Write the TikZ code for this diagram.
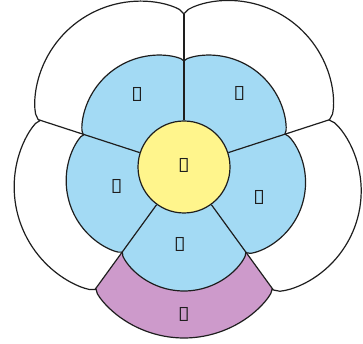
\documentclass[tikz,border=0pt]{standalone}
\usepackage{fontspec}
\newfontfamily\tefont[Script=Telugu]{Hind Guntur}
\definecolor{petalblue}{RGB}{163,218,244}
\definecolor{coreyellow}{RGB}{255,245,140}
\definecolor{lilac}{RGB}{205,154,203}
\definecolor{inkline}{RGB}{30,30,30}
\pgfmathdeclarefunction{lobe}{3}{%
  \pgfmathparse{#1+#2*0.5*(abs(sin(180*#3))+sqrt(abs(sin(180*#3))))}}
\tikzset{
  edge/.style={draw=inkline, line width=1.2pt, line join=round},
  digit/.style={font=\tefont\fontsize{20}{20}\selectfont, inner sep=0pt, text=inkline},
  lp/.style={domain=0:1, samples=45, variable=\t},
}
\begin{document}
\begin{tikzpicture}[x=1pt,y=1pt]
\useasboundingbox (0,0) rectangle (363,344);
\fill[white] (0,0) rectangle (363,344);
\begin{scope}[shift={(184,177)}]
  % outer ring (white)
  \fill[white] plot[lp] ({18+72*\t}:{lobe(153,28,\t)})
    -- plot[lp] ({90+72*\t}:{lobe(153,27,\t)})
    -- plot[lp] ({162+72*\t}:{lobe(151,22,\t)})
    -- plot[lp] ({234+72*\t}:{lobe(150,21,\t)})
    -- plot[lp] ({306+72*\t}:{lobe(152,29,\t)}) -- cycle;
  % purple segment
  \fill[lilac] plot[lp] ({234+72*\t}:{lobe(150,21,\t)})
    -- plot[lp] ({306-72*\t}:{lobe(105,19,\t)}) -- cycle;
  % outer outline
  \draw[edge] plot[lp] ({18+72*\t}:{lobe(153,28,\t)})
    -- plot[lp] ({90+72*\t}:{lobe(153,27,\t)})
    -- plot[lp] ({162+72*\t}:{lobe(151,22,\t)})
    -- plot[lp] ({234+72*\t}:{lobe(150,21,\t)})
    -- plot[lp] ({306+72*\t}:{lobe(152,29,\t)}) -- cycle;
  % blue flower
  \draw[edge, fill=petalblue] plot[lp] ({18+72*\t}:{lobe(106,14,\t)})
    -- plot[lp] ({90+72*\t}:{lobe(106,14,\t)})
    -- plot[lp] ({162+72*\t}:{lobe(105,15,\t)})
    -- plot[lp] ({234+72*\t}:{lobe(105,19,\t)})
    -- plot[lp] ({306+72*\t}:{lobe(106,18,\t)}) -- cycle;
  % centre
  \node[edge, circle, fill=coreyellow, minimum size=92pt, inner sep=0pt] (core) at (0,0) {};
  \coordinate (o1) at (90:153);
  \coordinate (o2) at (162:151);
  \coordinate (o3) at (234:150);
  \coordinate (o4) at (306:151);
  \coordinate (o5) at (18:153);
  \draw[edge] (core.90) -- (o1);
  \draw[edge] (core.162) -- (o2);
  \draw[edge] (core.234) -- (o3);
  \draw[edge] (core.306) -- (o4);
  \draw[edge] (core.18) -- (o5);
  % labels
  \node[digit] (dc) at (0,2) {౪};
  \node[digit] (dul) at (123:86) {౦};
  \node[digit] (dur) at (53:92) {౧};
  \node[digit] (dl) at (196:70) {౪};
  \node[digit] (dr) at (338:81) {౨};
  \node[digit] (db) at (267:78) {౩};
  \node[digit] (dp) at (270:147) {౧};
\end{scope}
\end{tikzpicture}
\end{document}
